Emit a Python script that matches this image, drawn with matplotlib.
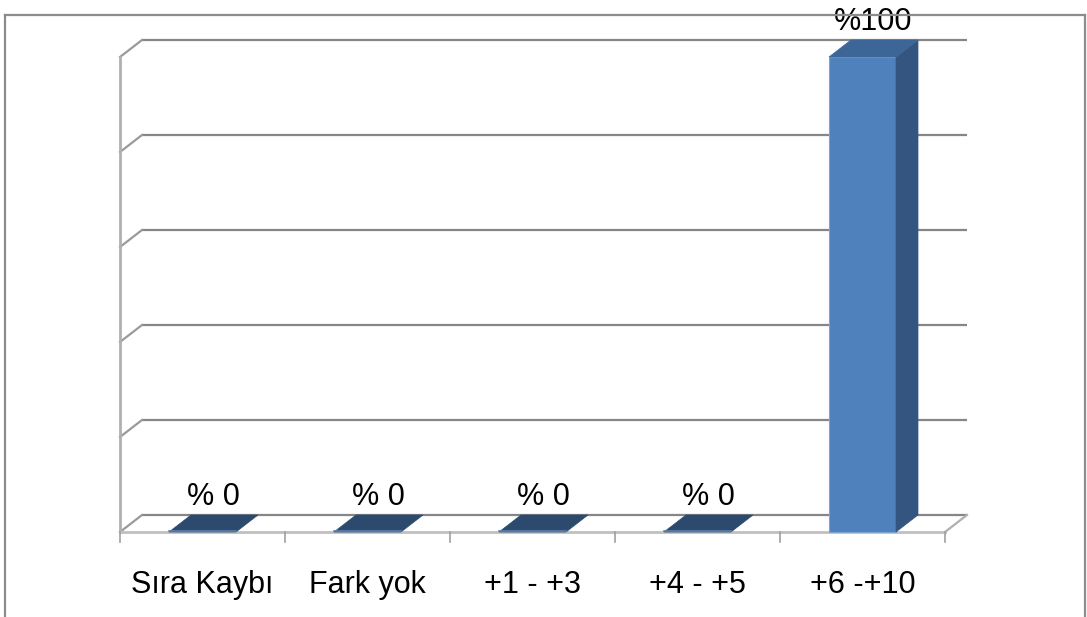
import matplotlib
matplotlib.use("Agg")
import matplotlib.pyplot as plt
from matplotlib.patches import Polygon, Rectangle
from matplotlib.lines import Line2D

categories = ["Sıra Kaybı", "Fark yok", "+1 - +3", "+4 - +5", "+6 -+10"]
values = [0, 0, 0, 0, 100]
value_labels = ["% 0", "% 0", "% 0", "% 0", "%100"]
grid_values = [0, 20, 40, 60, 80, 100]

plt.rcParams['font.family'] = ['Liberation Sans', 'DejaVu Sans']

W, H = 1087, 617
fig = plt.figure(figsize=(W / 100, H / 100), dpi=100)
ax = fig.add_axes([0, 0, 1, 1])
ax.set_axis_off()

# pixel geometry of the plot: front floor y=532, 100% at y=57, category width 165px
x0_px, cat_px = 120, 165
y0_px, unit_px = 532, 4.75
ax.set_xlim((0 - x0_px) / cat_px - 0.5, (W - x0_px) / cat_px - 0.5)
ax.set_ylim((y0_px - H) / unit_px, y0_px / unit_px)

dx = 22 / cat_px      # depth offset in category units
dy = 17 / unit_px     # depth offset in percent units
n = len(categories)
left, right = -0.5, n - 0.5

grid_col = "#868686"
# back wall gridlines and their diagonal connectors on the side wall
for g in grid_values:
    ax.plot([left + dx, right + dx], [g + dy, g + dy], color=grid_col, lw=1.6, zorder=1,
            solid_capstyle='butt')
    ax.plot([left, left + dx], [g, g + dy], color="#9a9a9a", lw=1.6, zorder=1)
# left front edge, floor front edge, floor right edge
ax.plot([left, left], [0, 100], color="#b0b0b0", lw=2.0, zorder=1)
ax.plot([left, right], [0, 0], color="#c0c0c0", lw=2.0, zorder=1)
ax.plot([right, right + dx], [0, dy], color="#b0b0b0", lw=1.6, zorder=1)
# tick marks between categories
for k in range(n + 1):
    ax.plot([left + k, left + k], [0, -2.1], color="#a0a0a0", lw=1.2, zorder=1)

bw = 67 / cat_px
front_c, side_c, top_c = "#4f81bd", "#34557f", "#3c6698"
for i, v in enumerate(values):
    a, b = i - bw / 2, i + bw / 2
    if v > 0:
        ax.add_patch(Rectangle((a, 0), bw, v, facecolor=front_c, edgecolor="#7fa3cf",
                               lw=0.8, zorder=3))
        ax.add_patch(Polygon([(b, 0), (b + dx, dy), (b + dx, v + dy), (b, v)],
                             facecolor=side_c, edgecolor=side_c, lw=0.5, zorder=3))
        ax.add_patch(Polygon([(a, v), (a + dx, v + dy), (b + dx, v + dy), (b, v)],
                             facecolor=top_c, edgecolor=top_c, lw=0.5, zorder=3))
    else:
        ax.add_patch(Polygon([(a, 0), (a + dx, dy), (b + dx, dy), (b, 0)],
                             facecolor="#2c4a6e", edgecolor="#2c4a6e", lw=0.5, zorder=3))
        ax.plot([a, b], [0.15, 0.15], color="#5b82b3", lw=1.2, zorder=4)
    ax.text(i + dx / 2, v + dy + 2.2, value_labels[i], ha='center', va='baseline',
            fontsize=22, color="black", zorder=5)

for i, c in enumerate(categories):
    ax.text(i, -12.8, c, ha='center', va='baseline', fontsize=22, color="black")

# outer chart frame
frame_col = "#8c8c8c"
fig.add_artist(Line2D([5 / W, 1085 / W], [1 - 15 / H, 1 - 15 / H], color=frame_col, lw=1.6))
fig.add_artist(Line2D([5 / W, 5 / W], [1 - 15 / H, 0], color=frame_col, lw=1.6))
fig.add_artist(Line2D([1085 / W, 1085 / W], [1 - 15 / H, 0], color=frame_col, lw=1.6))

fig.savefig("out.png", dpi=100, facecolor="white")
